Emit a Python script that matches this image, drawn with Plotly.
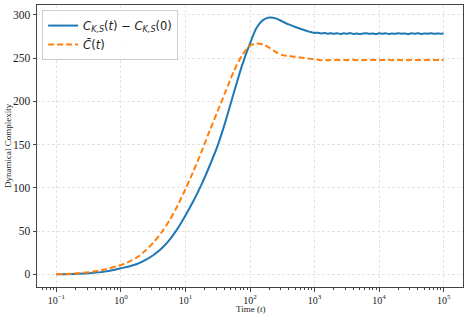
import plotly.graph_objects as go

# log10 of time for the rising part
log_t_rise = [-1, -0.75, -0.5, -0.25, 0, 0.125, 0.25, 0.375, 0.5, 0.625, 0.75, 0.875,
              1.0, 1.125, 1.25, 1.375, 1.5, 1.625, 1.75, 1.875, 2.0, 2.1, 2.2, 2.3,
              2.4, 2.5, 2.6, 2.7, 2.8, 2.9, 3.0]
blue_rise = [0, 0.3, 1.1, 3.0, 6.9, 9.0, 11.8, 16.3, 22, 29.5, 39.5, 52.5,
             68, 85, 104, 125.5, 149, 178, 210, 241, 267, 285, 294, 297,
             296, 292.5, 289, 286, 283.5, 281, 279.2]
orange_rise = [0, 0.6, 2.3, 5.5, 10.7, 14.5, 19.5, 27, 36.5, 48, 62, 79,
               98.5, 119.5, 142, 166, 189, 212, 235, 253, 264.5, 267, 266, 262,
               257, 253.5, 252.5, 251.5, 250.5, 249.5, 248.5]

# plateau, log10 t from 3.05 to 5.0
log_t_plateau = [3.05, 3.1, 3.15, 3.2, 3.25, 3.3, 3.35, 3.4, 3.45, 3.5,
                 3.55, 3.6, 3.65, 3.7, 3.75, 3.8, 3.85, 3.9, 3.95, 4.0,
                 4.05, 4.1, 4.15, 4.2, 4.25, 4.3, 4.35, 4.4, 4.45, 4.5,
                 4.55, 4.6, 4.65, 4.7, 4.75, 4.8, 4.85, 4.9, 4.95, 5.0]
blue_plateau = [279.4, 278.6, 279.2, 278.3, 278.9, 278.1, 278.8, 277.9, 278.7, 278.2,
                279.0, 278.0, 278.6, 277.8, 278.5, 278.9, 278.1, 278.6, 277.9, 278.7,
                278.3, 278.8, 277.9, 278.5, 278.1, 278.9, 278.2, 278.6, 277.8, 278.7,
                278.3, 278.9, 278.0, 278.6, 278.2, 278.8, 278.1, 278.5, 278.3, 278.4]
orange_plateau = [248.2, 247.6, 248.0, 247.5, 247.9, 247.6, 248.1, 247.7, 248.0, 247.6,
                  247.9, 248.1, 247.7, 248.0, 247.6, 247.9, 247.7, 248.1, 247.8, 247.6,
                  248.0, 247.7, 247.9, 247.6, 248.0, 247.8, 247.6, 247.9, 247.7, 248.1,
                  247.8, 247.6, 247.9, 247.7, 248.0, 247.6, 247.9, 247.8, 247.7, 247.9]

x_tick_exps = [-1, 0, 1, 2, 3, 4, 5]
y_ticks = [0, 50, 100, 150, 200, 250, 300]

t = [10 ** e for e in log_t_rise + log_t_plateau]
blue = blue_rise + blue_plateau
orange = orange_rise + orange_plateau

x_tickvals = [10 ** e for e in x_tick_exps]
x_ticktext = ["10<sup>%s</sup>" % (str(e).replace("-", "\u2212")) for e in x_tick_exps]
minor_vals = [k * 10 ** d for d in range(-2, 6) for k in range(2, 10)]

SERIF = "Liberation Serif, Times New Roman, Times, serif"

fig = go.Figure()
fig.add_trace(go.Scatter(
    x=t, y=blue, mode="lines",
    line=dict(color="#1f77b4", width=2, shape="spline", smoothing=0.8),
    name="<i>C</i><sub><i>K,S</i></sub>(<i>t</i>) \u2212 <i>C</i><sub><i>K,S</i></sub>(0)",
))
fig.add_trace(go.Scatter(
    x=t, y=orange, mode="lines",
    line=dict(color="#ff7f0e", width=2, dash="6px,3px", shape="spline", smoothing=0.8),
    name="<i>C\u0304</i>(<i>t</i>)",
))

axis_common = dict(
    showline=True, mirror=True, linecolor="#444", linewidth=1,
    showgrid=True, gridcolor="#e4e4e4", griddash="3px,2px", gridwidth=1,
    ticks="outside", ticklen=3.5, tickcolor="#444", zeroline=False,
    automargin=False,
)

fig.update_xaxes(
    type="log", range=[-1.3, 5.3],
    tickmode="array", tickvals=x_tickvals, ticktext=x_ticktext,
    tickfont=dict(family=SERIF, size=10, color="#222"),
    minor=dict(ticks="outside", ticklen=2, tickcolor="#444", tickmode="array", tickvals=minor_vals, showgrid=False),
    **axis_common,
)
fig.update_yaxes(
    range=[-14.8, 311.5],
    tickmode="array", tickvals=y_ticks,
    tickfont=dict(family=SERIF, size=11.5, color="#222"),
    **axis_common,
)

fig.update_layout(
    width=468, height=318,
    margin=dict(l=37, r=5, t=5, b=31),
    paper_bgcolor="white", plot_bgcolor="white",
    showlegend=True,
    legend=dict(
        x=0.012, y=0.982, xanchor="left", yanchor="top",
        bgcolor="rgba(255,255,255,0.85)", bordercolor="#cccccc", borderwidth=1,
        font=dict(family="DejaVu Sans", size=11.5, color="#222"),
        tracegroupgap=0, itemwidth=30,
    ),
    annotations=[
        dict(text="Time (<i>t</i>)", xref="paper", yref="paper", x=0.5, y=-0.078,
             xanchor="center", yanchor="middle", showarrow=False,
             font=dict(family=SERIF, size=9, color="#222")),
        dict(text="Dynamical Complexity", xref="paper", yref="paper", x=-0.068, y=0.5,
             xanchor="center", yanchor="middle", textangle=-90, showarrow=False,
             font=dict(family=SERIF, size=9, color="#222")),
    ],
)

fig.write_html(
    "out.html",
    config={"displayModeBar": False},
    post_script="document.body.style.margin='0';document.body.style.padding='0';",
)
